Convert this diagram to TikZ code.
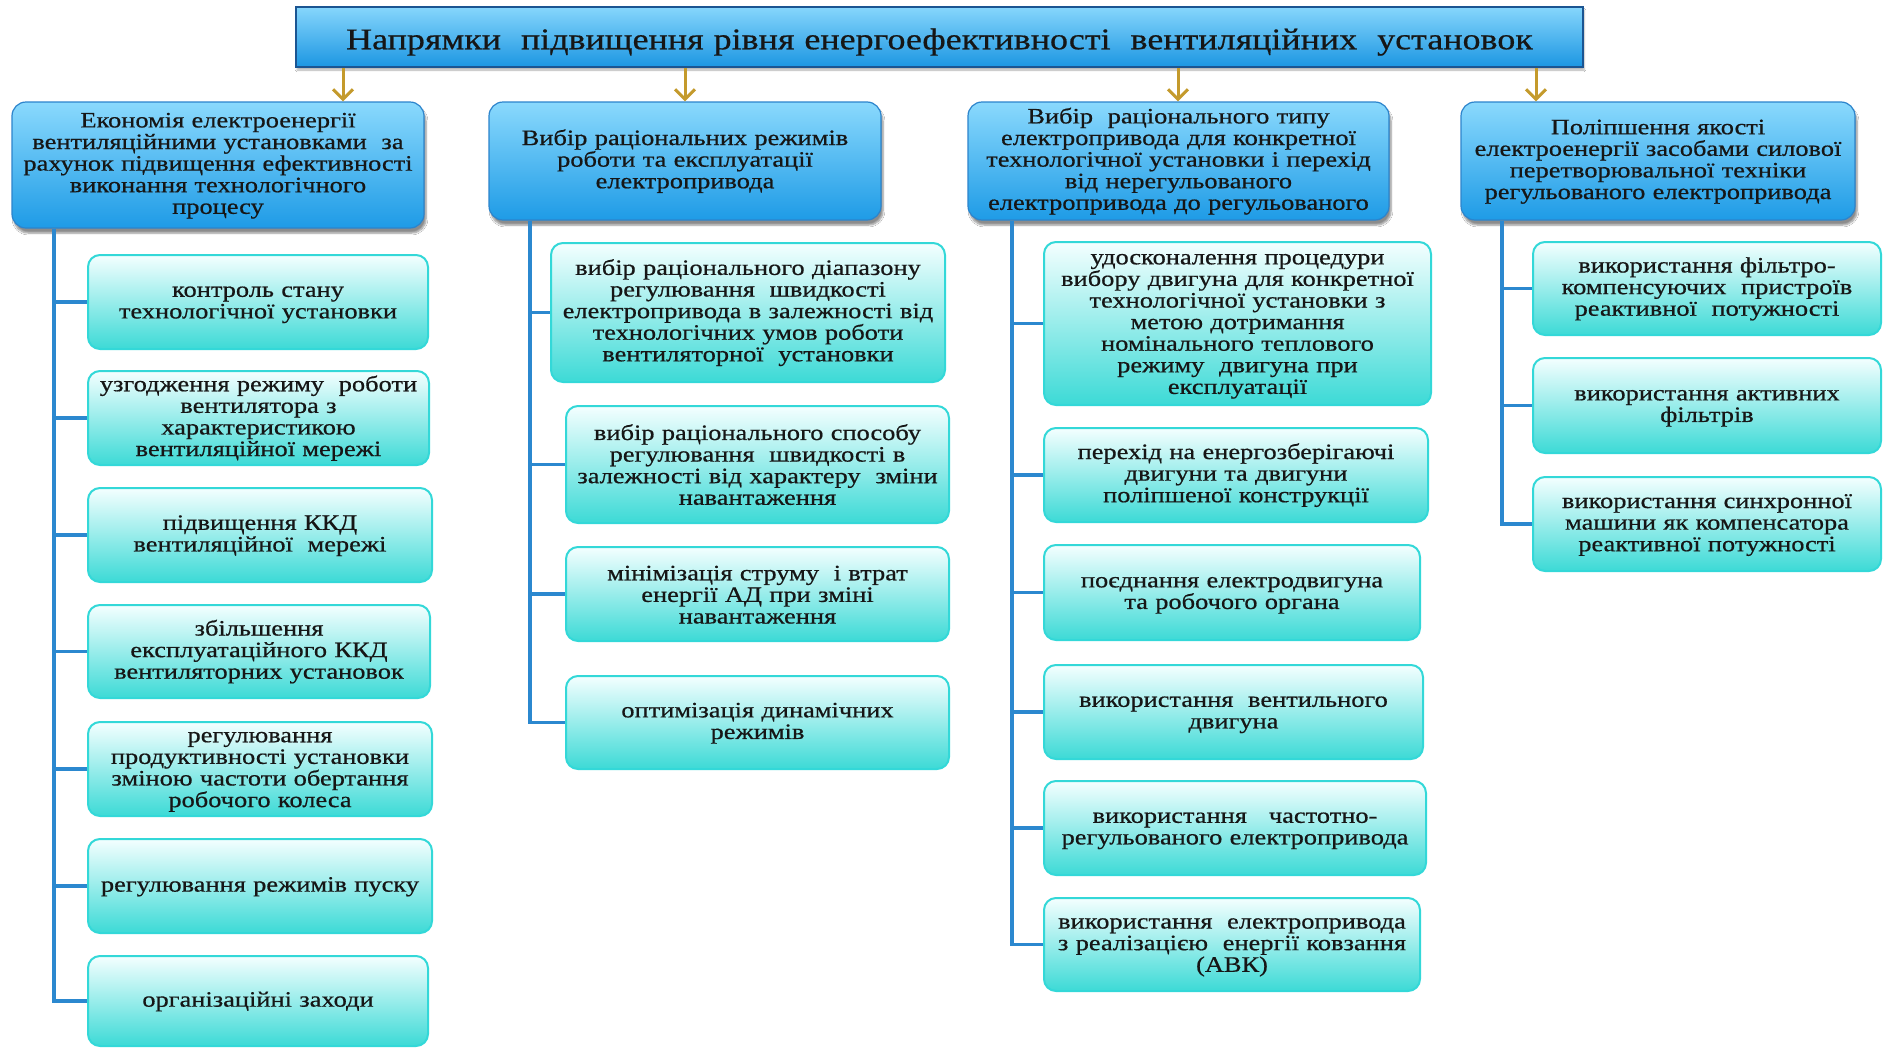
\documentclass[tikz,border=0pt]{standalone}
\usepackage{fontspec}
\setmainfont{Liberation Serif}[FakeStretch=1.2, RawFeature={embolden=0.6}]
\usetikzlibrary{arrows.meta,shadows.blur}

\definecolor{ink}{HTML}{161616}
\definecolor{titletop}{HTML}{86D6FC}
\definecolor{titlebot}{HTML}{1C96E2}
\definecolor{titleedge}{HTML}{1B5592}
\definecolor{headtop}{HTML}{8AD9FD}
\definecolor{headbot}{HTML}{1E9BE6}
\definecolor{headedge}{HTML}{2C84CC}
\definecolor{leaftop}{HTML}{F4FFFF}
\definecolor{leafbot}{HTML}{3CDAD6}
\definecolor{leafedge}{HTML}{33D8D8}
\definecolor{trunkblue}{HTML}{2B88CF}
\definecolor{gold}{HTML}{C49A2C}

\tikzset{
  titlebox/.style={draw=titleedge, line width=1.8pt, top color=titletop, bottom color=titlebot,
    text=ink, inner sep=0pt, align=center, font=\fontsize{30}{31}\selectfont,
    text height=31pt,
    blur shadow={shadow xshift=1pt, shadow yshift=-3pt, shadow blur steps=5, shadow opacity=30}},
  headbox/.style={rounded corners=14pt, draw=headedge, line width=1.2pt, top color=headtop,
    bottom color=headbot, text=ink, inner sep=0pt, align=center,
    font=\fontsize{22}{21.6}\selectfont, text height=16pt,
    blur shadow={shadow xshift=2pt, shadow yshift=-5pt, shadow blur steps=6, shadow opacity=45}},
  leafbox/.style={rounded corners=12pt, draw=leafedge, line width=2pt, top color=leaftop,
    bottom color=leafbot, text=ink, inner sep=0pt, align=center,
    font=\fontsize{22}{21.6}\selectfont, text height=16pt},
  trunk/.style={draw=trunkblue, line width=3.5pt},
  feed/.style={draw=gold, line width=3pt,
    -{Straight Barb[length=10pt, width=20pt, line width=3pt]}}
}

% box from corner (x1,y1) to corner (x2,y2), y measured downwards
\newcommand\boxat[7]{%
  \pgfmathsetmacro\bcx{(#3+#5)/2}%
  \pgfmathsetmacro\bcy{(#4+#6)/2}%
  \pgfmathsetmacro\bw{#5-#3}%
  \pgfmathsetmacro\bh{#6-#4}%
  \pgfmathsetmacro\btw{#5-#3-10}%
  \node[#1, minimum width=\bw pt, minimum height=\bh pt, text width=\btw pt] (#2) at (\bcx,\bcy) {#7};%
}

\begin{document}
\begin{tikzpicture}[x=1pt,y=-1pt]
\useasboundingbox[fill=white] (0,0) rectangle (1885,1047);

% main heading
\boxat{titlebox}{top}{296}{7}{1583}{67}{Напрямки\ \ підвищення рівня енергоефективності\ \ вентиляційних\ \ установок}

% four directions
\boxat{headbox}{hA}{12}{102}{424}{228}{Економія електроенергії\\вентиляційними установками\ \ за\\рахунок підвищення ефективності\\виконання технологічного\\процесу}
\boxat{headbox}{hB}{489}{102}{881}{220}{Вибір раціональних режимів\\роботи та експлуатації\\електропривода}
\boxat{headbox}{hC}{968}{102}{1389}{220}{Вибір\ \ раціонального типу\\електропривода для конкретної\\технологічної установки і перехід\\від нерегульованого\\електропривода до регульованого}
\boxat{headbox}{hD}{1461}{102}{1855}{220}{Поліпшення якості\\електроенергії засобами силової\\перетворювальної техніки\\регульованого електропривода}

% arrows from the heading
\foreach \n/\x in {A/343, B/685, C/1178, D/1536}{
  \coordinate (f\n) at (\x,67);
  \draw[feed] (f\n |- top.south) -- (f\n |- h\n.north);
}

% column A
\boxat{leafbox}{a1}{88}{255}{428}{349}{контроль стану\\технологічної установки}
\boxat{leafbox}{a2}{88}{371}{429}{465}{узгодження режиму\ \ роботи\\вентилятора з\\характеристикою\\вентиляційної мережі}
\boxat{leafbox}{a3}{88}{488}{432}{582}{підвищення ККД\\вентиляційної\ \ мережі}
\boxat{leafbox}{a4}{88}{605}{430}{698}{збільшення\\експлуатаційного ККД\\вентиляторних установок}
\boxat{leafbox}{a5}{88}{722}{432}{816}{регулювання\\продуктивності установки\\зміною частоти обертання\\робочого колеса}
\boxat{leafbox}{a6}{88}{839}{432}{933}{регулювання режимів пуску}
\boxat{leafbox}{a7}{88}{956}{428}{1046}{організаційні заходи}

% column B
\boxat{leafbox}{b1}{551}{243}{945}{382}{вибір раціонального діапазону\\регулювання\ \ швидкості\\електропривода в залежності від\\технологічних умов роботи\\вентиляторної\ \ установки}
\boxat{leafbox}{b2}{566}{406}{949}{523}{вибір раціонального способу\\регулювання\ \ швидкості в\\залежності від характеру\ \ зміни\\навантаження}
\boxat{leafbox}{b3}{566}{547}{949}{641}{мінімізація струму\ \ і втрат\\енергії АД при зміні\\навантаження}
\boxat{leafbox}{b4}{566}{676}{949}{769}{оптимізація динамічних\\режимів}

% column C
\boxat{leafbox}{c1}{1044}{242}{1431}{405}{удосконалення процедури\\вибору двигуна для конкретної\\технологічної установки з\\метою дотримання\\номінального теплового\\режиму\ \ двигуна при\\експлуатації}
\boxat{leafbox}{c2}{1044}{428}{1428}{522}{перехід на енергозберігаючі\\двигуни та двигуни\\поліпшеної конструкції}
\boxat{leafbox}{c3}{1044}{545}{1420}{640}{поєднання електродвигуна\\та робочого органа}
\boxat{leafbox}{c4}{1044}{665}{1423}{759}{використання\ \ вентильного\\двигуна}
\boxat{leafbox}{c5}{1044}{781}{1426}{875}{використання\ \ \ частотно-\\регульованого електропривода}
\boxat{leafbox}{c6}{1044}{898}{1420}{991}{використання\ \ електропривода\\з реалізацією\ \ енергії ковзання\\(АВК)}

% column D
\boxat{leafbox}{d1}{1533}{242}{1881}{335}{використання фільтро-\\компенсуючих\ \ пристроїв\\реактивної\ \ потужності}
\boxat{leafbox}{d2}{1533}{358}{1881}{453}{використання активних\\фільтрів}
\boxat{leafbox}{d3}{1533}{477}{1881}{571}{використання синхронної\\машини як компенсатора\\реактивної потужності}

% trunk lines
\coordinate (xA) at (54,0);
\coordinate (xB) at (530,0);
\coordinate (xC) at (1012,0);
\coordinate (xD) at (1502,0);

\draw[trunk] (hA.south -| xA) |- (a7.west);
\foreach \i in {1,...,6}{\draw[trunk] (xA |- a\i.west) -- (a\i.west);}

\draw[trunk] (hB.south -| xB) |- (b4.west);
\foreach \i in {1,2,3}{\draw[trunk] (xB |- b\i.west) -- (b\i.west);}

\draw[trunk] (hC.south -| xC) |- (c6.west);
\foreach \i in {1,...,5}{\draw[trunk] (xC |- c\i.west) -- (c\i.west);}

\draw[trunk] (hD.south -| xD) |- (d3.west);
\foreach \i in {1,2}{\draw[trunk] (xD |- d\i.west) -- (d\i.west);}
\end{tikzpicture}
\end{document}
